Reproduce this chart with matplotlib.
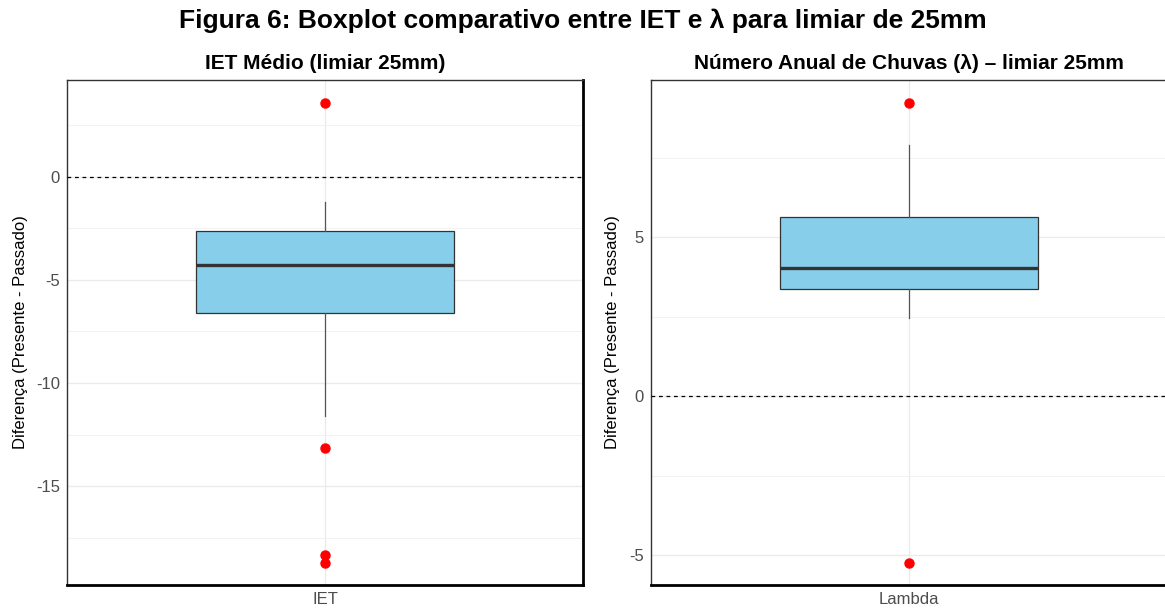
import matplotlib
matplotlib.use("Agg")
import matplotlib.pyplot as plt

plt.rcParams["font.family"] = ["Liberation Sans", "DejaVu Sans"]
plt.rcParams["axes.unicode_minus"] = False

# Summary statistics of the differences (present - past)
categories = ["IET", "Lambda"]
panel_titles = ["IET Médio (limiar 25mm)", "Número Anual de Chuvas (λ) – limiar 25mm"]
q1 = [-6.6, 3.36]
median = [-4.27, 4.03]
q3 = [-2.62, 5.63]
whisker_low = [-11.6, 2.45]
whisker_high = [-1.21, 7.89]
outliers = [[3.59, -13.15, -18.35, -18.74], [9.21, -5.25]]

y_limits = [(-19.8, 4.7), (-5.94, 9.94)]
major_ticks = [[-15, -10, -5, 0], [-5, 0, 5]]
minor_ticks = [[-17.5, -12.5, -7.5, -2.5, 2.5], [-2.5, 2.5, 7.5]]

W, H = 1165, 610
fig = plt.figure(figsize=(W / 100, H / 100), dpi=100)
fig.suptitle("Figura 6: Boxplot comparativo entre IET e λ para limiar de 25mm",
             fontsize=19, fontweight="bold", y=1 - 21 / H, va="center")

axes_left_px = [67, 651]
ax_w_px = 516
ax_top_px, ax_bot_px = 80, 585
ylabel_x_px = [28, 620]

for i in range(2):
    ax = fig.add_axes([axes_left_px[i] / W, (H - ax_bot_px) / H,
                       ax_w_px / W, (ax_bot_px - ax_top_px) / H])
    stats = [dict(med=median[i], q1=q1[i], q3=q3[i],
                  whislo=whisker_low[i], whishi=whisker_high[i],
                  fliers=outliers[i], label=categories[i])]
    ax.bxp(stats, positions=[1], widths=0.6, patch_artist=True, showcaps=False,
           boxprops=dict(facecolor="#87CEEB", edgecolor="#333333", linewidth=0.9),
           medianprops=dict(color="#333333", linewidth=2.4),
           whiskerprops=dict(color="#555555", linewidth=0.9),
           flierprops=dict(marker="o", markerfacecolor="red", markeredgecolor="red",
                           markersize=6.5, linestyle="none"),
           zorder=3)
    ax.axhline(0, color="black", linestyle=(0, (3, 3)), linewidth=0.9, zorder=4)

    ax.set_xlim(0.4, 1.6)
    ax.set_ylim(*y_limits[i])
    ax.set_yticks(major_ticks[i])
    ax.set_yticks(minor_ticks[i], minor=True)
    ax.set_yticklabels([str(t) for t in major_ticks[i]])
    ax.set_xticks([1])
    ax.set_xticklabels([categories[i]])

    ax.grid(True, which="major", color="#ebebeb", linewidth=1.0, zorder=0)
    ax.grid(True, which="minor", axis="y", color="#f2f2f2", linewidth=0.7, zorder=0)
    ax.set_axisbelow(True)
    ax.tick_params(axis="both", which="both", length=0, labelsize=12,
                   labelcolor="#4d4d4d", pad=5)

    for side in ["left", "top"]:
        ax.spines[side].set_color("#333333")
        ax.spines[side].set_linewidth(1.0)
    for side in ["bottom", "right"]:
        ax.spines[side].set_color("black")
        ax.spines[side].set_linewidth(2.0)

    ax.set_title(panel_titles[i], fontsize=15, fontweight="bold", pad=8)
    ax.set_ylabel("Diferença (Presente - Passado)", fontsize=12, color="black")
    ax.yaxis.set_label_coords((ylabel_x_px[i] - axes_left_px[i]) / ax_w_px, 0.5)

fig.savefig("out.png", dpi=100, facecolor="white")
